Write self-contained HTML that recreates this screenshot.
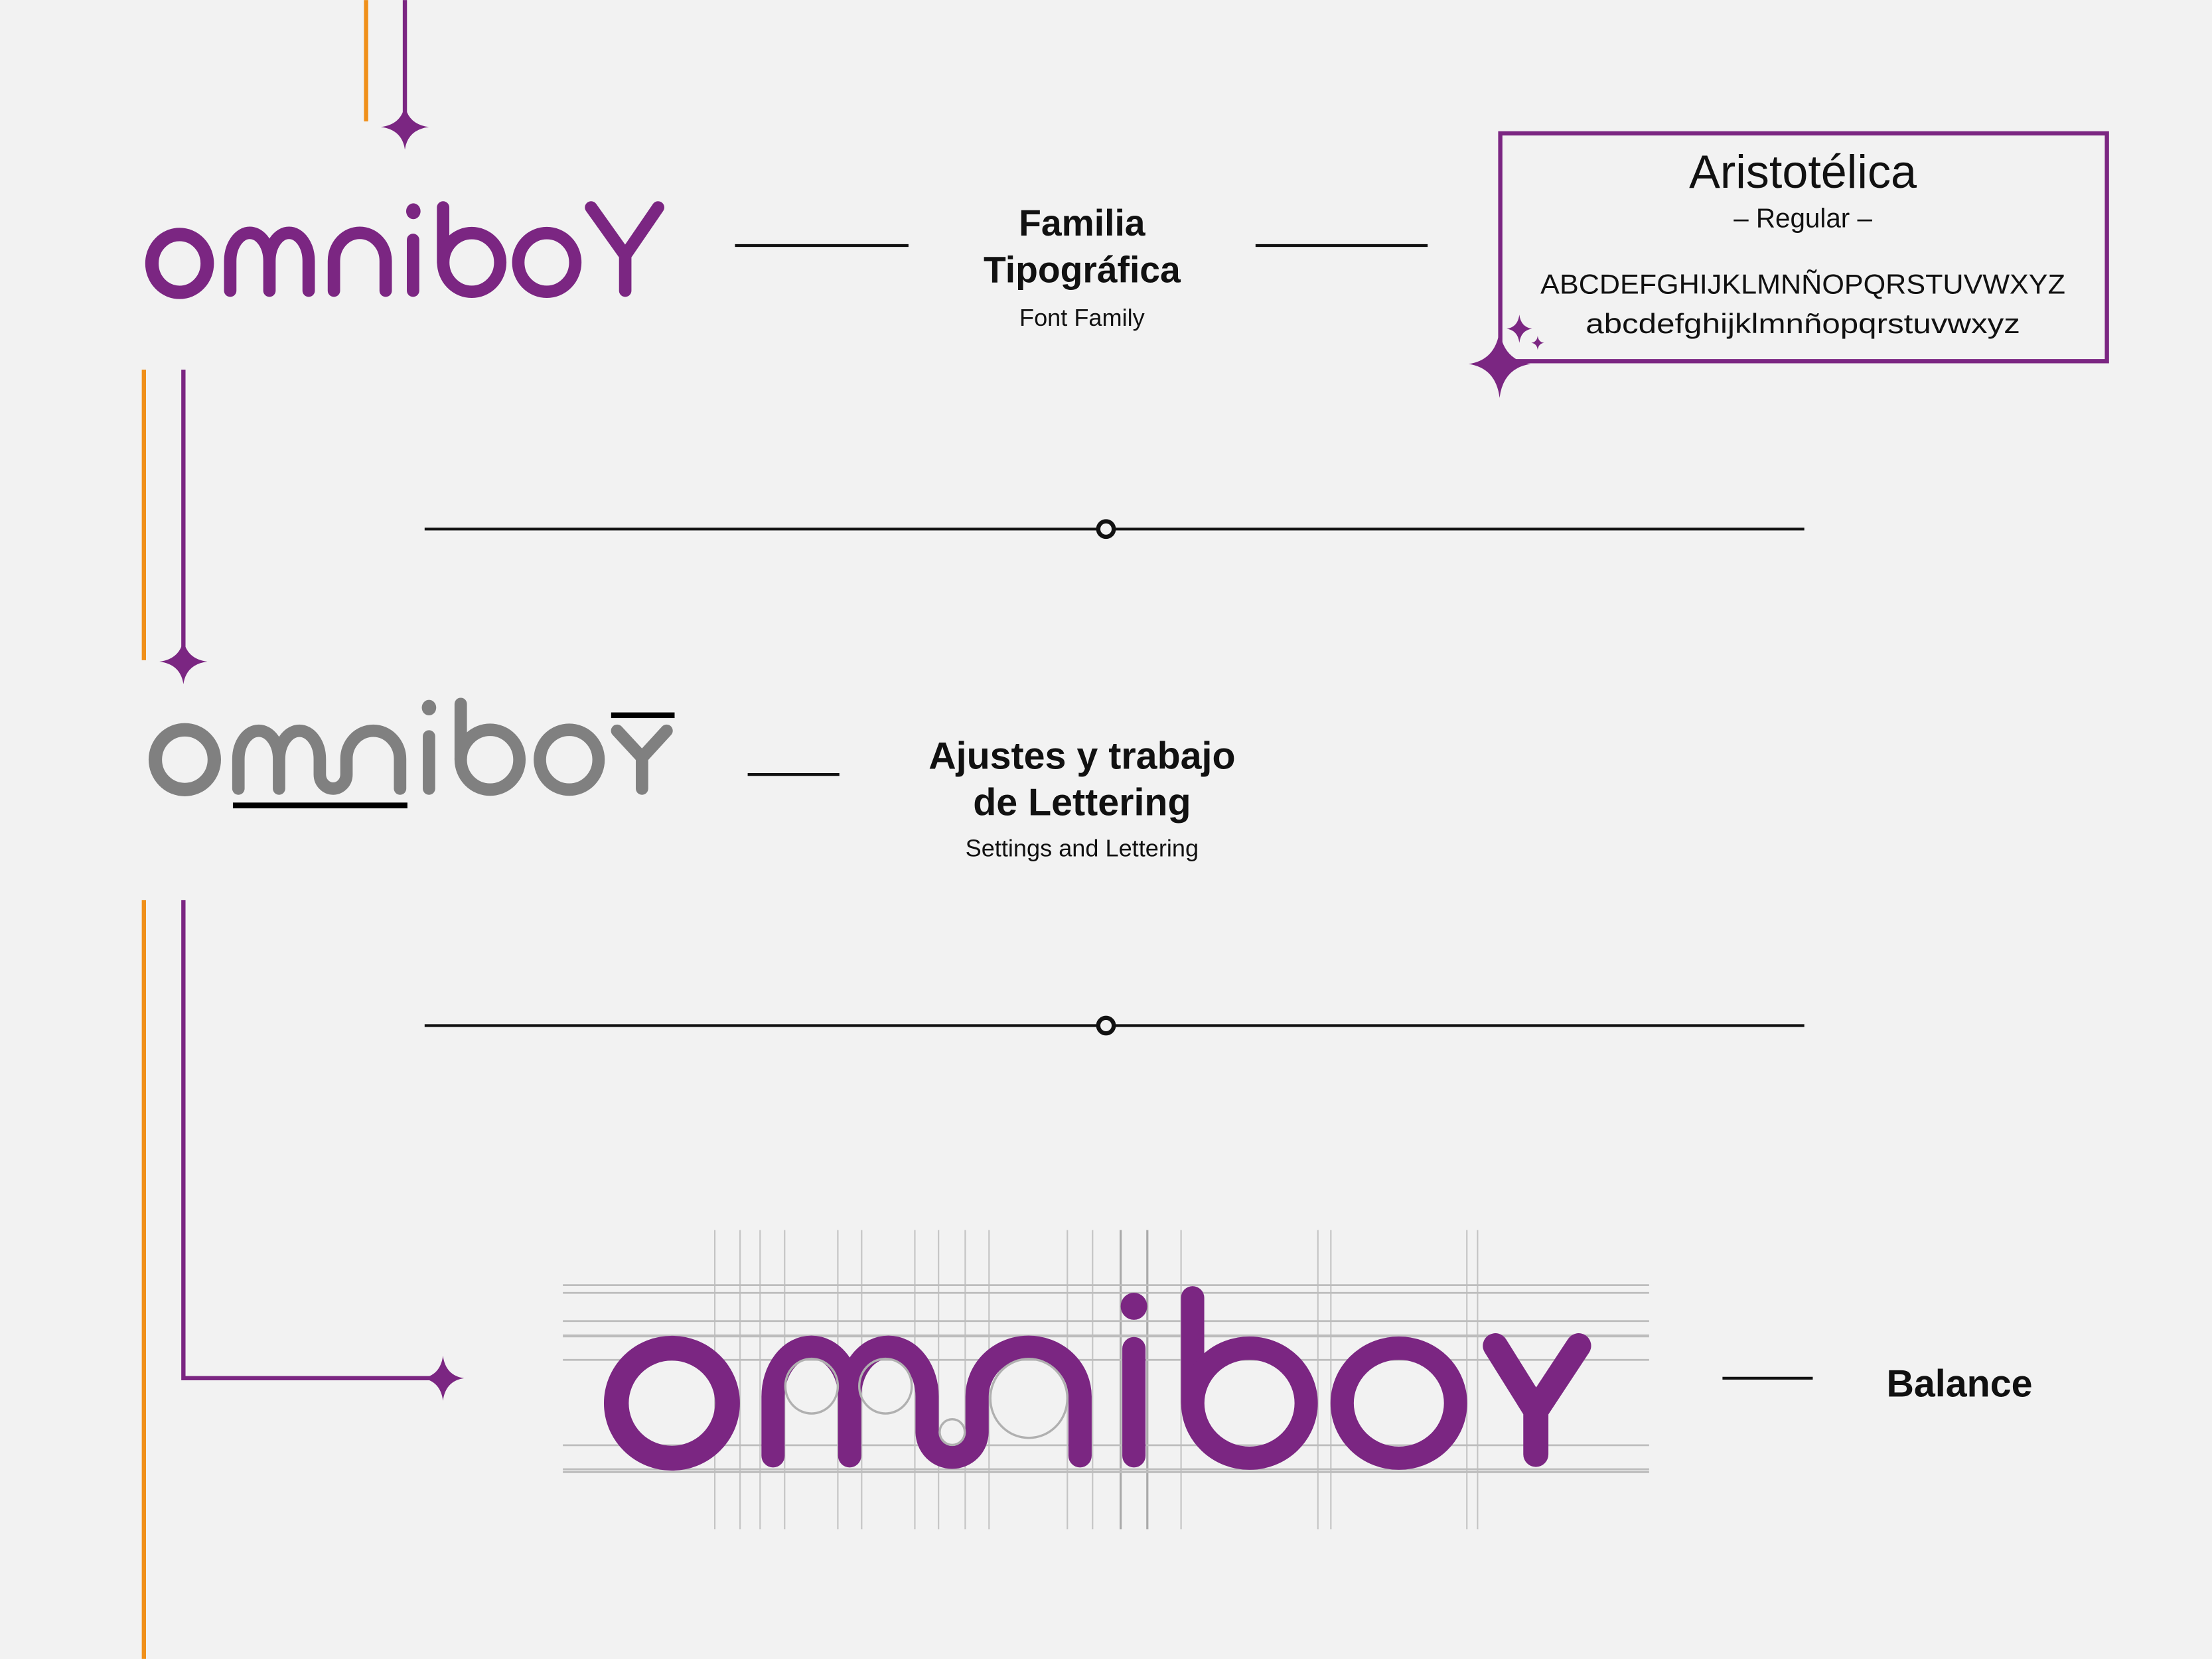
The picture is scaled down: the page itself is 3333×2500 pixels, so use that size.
<!DOCTYPE html>
<html><head><meta charset="utf-8"><style>
html,body{margin:0;padding:0;background:#f2f2f2;}
svg{display:block;}
text{font-family:"Liberation Sans",Arial,sans-serif;}
</style></head><body>
<svg width="3333" height="2500" viewBox="0 0 1568 1176" xmlns="http://www.w3.org/2000/svg">
<defs>
<path id="star" d="M0,-1 Q0.12,-0.12 1,0 Q0.12,0.12 0,1 Q-0.12,0.12 -1,0 Q-0.12,-0.12 0,-1Z"/>
</defs>
<rect width="1568" height="1176" fill="#f2f2f2"/>

<line x1="259.5" y1="0" x2="259.5" y2="86" stroke="#f0901a" stroke-width="3"/>
<line x1="287" y1="0" x2="287" y2="85" stroke="#7b2682" stroke-width="3"/>
<use href="#star" transform="translate(287,90) scale(17,16)" fill="#7b2682"/>

<g fill="none" stroke="#7b2682" stroke-width="8.8" stroke-linecap="round">
<ellipse cx="127.3" cy="186.7" rx="19.6" ry="20.5" stroke-width="9.5"/>
<path d="M163.2,206 V185 A13.9,20 0 0 1 191,185 V206 M191,185 A13.9,20 0 0 1 218.8,185 V206"/>
<path d="M236.7,206 V185 A18.35,20 0 0 1 273.4,185 V206"/>
<path d="M292.8,170 V206"/>
<path d="M314.1,147 V186"/>
<ellipse cx="334.4" cy="186" rx="20.2" ry="20.8"/>
<ellipse cx="387.6" cy="186" rx="20.2" ry="20.8"/>
<path d="M419,147 L443.2,181 L466.5,147 M443.2,181 V206" stroke-linejoin="round"/>
</g>
<ellipse cx="293" cy="149.7" rx="5.1" ry="5.6" fill="#7b2682"/>

<line x1="521" y1="174" x2="644" y2="174" stroke="#111" stroke-width="2"/>
<line x1="890" y1="174" x2="1012" y2="174" stroke="#111" stroke-width="2"/>
<text x="767" y="167" text-anchor="middle" font-size="26" font-weight="bold" fill="#111">Familia</text>
<text x="767" y="200" text-anchor="middle" font-size="26" font-weight="bold" fill="#111">Tipográfica</text>
<text x="767" y="231" text-anchor="middle" font-size="17" fill="#111">Font Family</text>

<rect x="1063.5" y="94.5" width="430" height="161.5" fill="none" stroke="#7b2682" stroke-width="3"/>
<text x="1278" y="133" text-anchor="middle" font-size="33" fill="#111">Aristotélica</text>
<text x="1278" y="161" text-anchor="middle" font-size="19" fill="#111">– Regular –</text>
<text x="1278" y="208" text-anchor="middle" font-size="19.5" fill="#111" textLength="372" lengthAdjust="spacingAndGlyphs">ABCDEFGHIJKLMNÑOPQRSTUVWXYZ</text>
<text x="1278" y="236" text-anchor="middle" font-size="19.5" fill="#111" textLength="308" lengthAdjust="spacingAndGlyphs">abcdefghijklmnñopqrstuvwxyz</text>
<use href="#star" transform="translate(1063,258) scale(22,24)" fill="#7b2682"/>
<use href="#star" transform="translate(1077,233) scale(9,10)" fill="#7b2682"/>
<use href="#star" transform="translate(1090,243) scale(4.5,5)" fill="#7b2682"/>

<line x1="102" y1="262" x2="102" y2="468" stroke="#f0901a" stroke-width="3"/>
<line x1="130" y1="262" x2="130" y2="462" stroke="#7b2682" stroke-width="3"/>
<use href="#star" transform="translate(130,469) scale(17,16)" fill="#7b2682"/>

<line x1="301" y1="375" x2="1279" y2="375" stroke="#111" stroke-width="2"/>
<circle cx="784" cy="375" r="5.5" fill="#f2f2f2" stroke="#111" stroke-width="3"/>

<g fill="none" stroke="#808080" stroke-width="8.8" stroke-linecap="round">
<ellipse cx="131" cy="538.5" rx="20.9" ry="21.2" stroke-width="9.5"/>
<path d="M169,559 V538 A14.4,20 0 0 1 197.8,538 V559 M197.8,538 A14.45,20 0 0 1 226.7,538 V549 A9.45,10 0 0 0 245.6,549 V538 A19,20 0 0 1 283.6,538 V559"/>
<path d="M304.1,522 V559"/>
<path d="M326.6,499 V538"/>
<ellipse cx="347.4" cy="538.5" rx="20.8" ry="21.2"/>
<ellipse cx="403.5" cy="538.5" rx="20.8" ry="21.2"/>
<path d="M437.5,518 L455.1,537 L472.5,518 M455.1,537 V559" stroke-linejoin="round"/>
</g>
<ellipse cx="304.1" cy="501.6" rx="5.1" ry="5.5" fill="#808080"/>
<rect x="433.2" y="505" width="45" height="4" fill="#000"/>
<rect x="165.1" y="568.9" width="123.7" height="4.1" fill="#000"/>

<line x1="530" y1="549" x2="595" y2="549" stroke="#111" stroke-width="2"/>
<text x="767" y="545" text-anchor="middle" font-size="27" font-weight="bold" fill="#111">Ajustes y trabajo</text>
<text x="767" y="578" text-anchor="middle" font-size="27" font-weight="bold" fill="#111">de Lettering</text>
<text x="767" y="607" text-anchor="middle" font-size="17" fill="#111">Settings and Lettering</text>

<line x1="301" y1="727" x2="1279" y2="727" stroke="#111" stroke-width="2"/>
<circle cx="784" cy="727" r="5.5" fill="#f2f2f2" stroke="#111" stroke-width="3"/>

<line x1="102" y1="638" x2="102" y2="1176" stroke="#f0901a" stroke-width="3"/>
<path d="M130,638 V977 H308" fill="none" stroke="#7b2682" stroke-width="3"/>
<use href="#star" transform="translate(314,977) scale(15,16)" fill="#7b2682"/>

<g stroke="#c4c4c4" stroke-width="1">
<line x1="506.7" y1="872" x2="506.7" y2="1084"/><line x1="524.6" y1="872" x2="524.6" y2="1084"/>
<line x1="538.8" y1="872" x2="538.8" y2="1084"/><line x1="556.2" y1="872" x2="556.2" y2="1084"/>
<line x1="593.9" y1="872" x2="593.9" y2="1084"/><line x1="610.8" y1="872" x2="610.8" y2="1084"/>
<line x1="648.5" y1="872" x2="648.5" y2="1084"/><line x1="665.3" y1="872" x2="665.3" y2="1084"/>
<line x1="684.2" y1="872" x2="684.2" y2="1084"/><line x1="701.1" y1="872" x2="701.1" y2="1084"/>
<line x1="756.6" y1="872" x2="756.6" y2="1084"/><line x1="774.5" y1="872" x2="774.5" y2="1084"/>
<line x1="794.4" y1="872" x2="794.4" y2="1084" stroke="#aaa" stroke-width="1.5"/><line x1="813.3" y1="872" x2="813.3" y2="1084" stroke="#aaa" stroke-width="1.5"/>
<line x1="837.2" y1="872" x2="837.2" y2="1084"/><line x1="934.2" y1="872" x2="934.2" y2="1084"/>
<line x1="943.4" y1="872" x2="943.4" y2="1084"/><line x1="1039.8" y1="872" x2="1039.8" y2="1084"/>
<line x1="1047.4" y1="872" x2="1047.4" y2="1084"/>
</g>
<g stroke="#bdbdbd" stroke-width="1.3">
<line x1="399" y1="911" x2="1169" y2="911"/><line x1="399" y1="916.5" x2="1169" y2="916.5"/>
<line x1="399" y1="936.5" x2="1169" y2="936.5"/><line x1="399" y1="947" x2="1169" y2="947" stroke-width="2"/>
<line x1="399" y1="964" x2="1169" y2="964"/><line x1="399" y1="1024.5" x2="1169" y2="1024.5"/>
<line x1="399" y1="1041.5" x2="1169" y2="1041.5"/><line x1="399" y1="1043.5" x2="1169" y2="1043.5" stroke-width="1.6"/>
</g>
<g fill="none" stroke="#7b2682" stroke-width="16.5" stroke-linecap="round">
<ellipse cx="476.3" cy="994.7" rx="39.4" ry="39" stroke-width="17.6"/>
<path d="M548,1032 V990 A27.15,35 0 0 1 602.3,990 V1032 M602.3,990 A27.45,35 0 0 1 657.2,990 V1015 A17.7,18 0 0 0 692.6,1015 V990 A36.5,35 0 0 1 765.6,990 V1032"/>
<path d="M803.8,956 V1032"/>
<path d="M845.4,920 V994"/>
<ellipse cx="885.7" cy="994.7" rx="40.2" ry="39"/>
<ellipse cx="991.6" cy="994.7" rx="40.2" ry="39"/>
<path d="M1060,954 L1088.7,1000 L1119,954 M1088.7,1000 V1031" stroke-width="17.8" stroke-linejoin="round"/>
</g>
<ellipse cx="803.8" cy="926" rx="9.4" ry="9.6" fill="#7b2682"/>
<g fill="none" stroke="#b0b0b0" stroke-width="1.6">
<ellipse cx="575.3" cy="982.6" rx="18.6" ry="19.4"/>
<ellipse cx="627.7" cy="982.6" rx="18.6" ry="19.4"/>
<ellipse cx="729.3" cy="991.3" rx="27.3" ry="28"/>
<ellipse cx="675" cy="1015.2" rx="8.9" ry="9.1"/>
</g>

<line x1="1221" y1="977" x2="1285" y2="977" stroke="#111" stroke-width="2"/>
<text x="1389" y="990" text-anchor="middle" font-size="27" font-weight="bold" fill="#111">Balance</text>
</svg>
</body></html>
